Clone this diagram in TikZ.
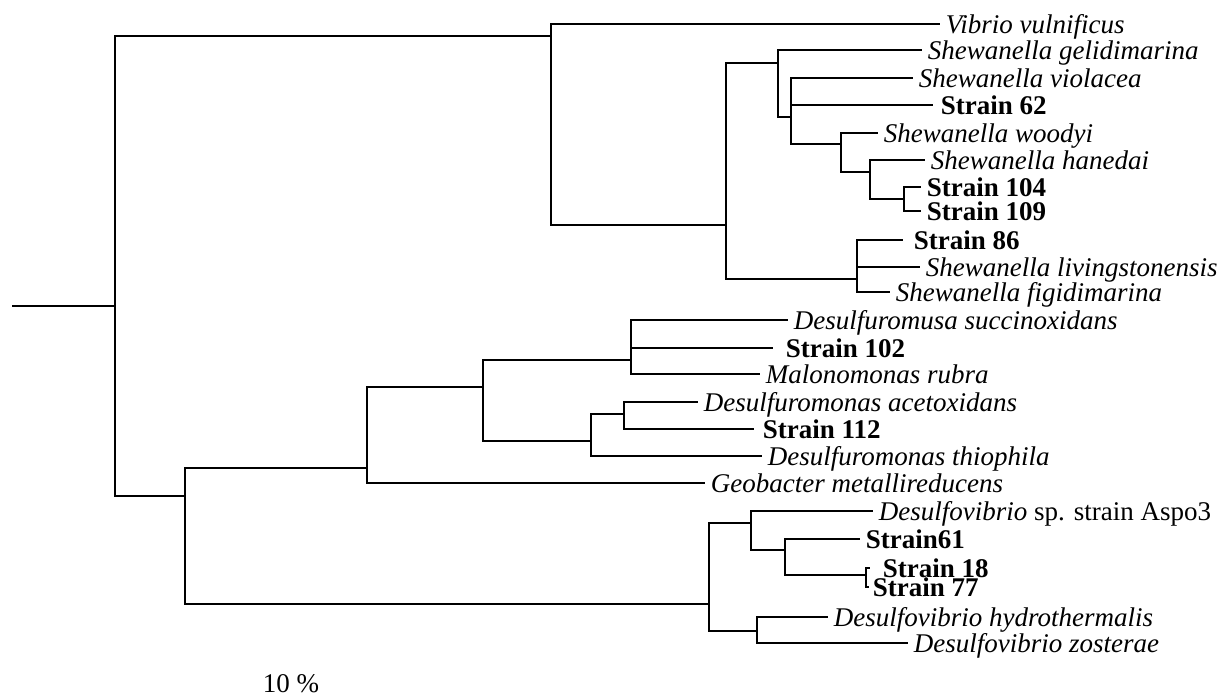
\documentclass[tikz,border=0pt]{standalone}
\usepackage{fontspec}
\setmainfont{Liberation Serif}
\begin{document}
\begin{tikzpicture}[x=1pt,y=-1pt,line width=1.8pt,
  leafbase/.style={anchor=west,inner xsep=5pt,inner ysep=0pt,text height=19pt,text depth=0pt},
  leaf/.style={leafbase,font=\fontsize{27}{30}\selectfont\itshape},
  strain/.style={leafbase,font=\fontsize{27}{30}\selectfont\bfseries},
  plain/.style={leafbase,font=\fontsize{27}{30}\selectfont}]
\useasboundingbox (0,0) rectangle (1222,697);
% internal nodes
\coordinate (r0) at (12,306);
\coordinate (R) at (115,306);
\coordinate (A) at (551,36);
\coordinate (B) at (726,225);
\coordinate (C) at (778,63);
\coordinate (D) at (791,117);
\coordinate (E) at (841,144);
\coordinate (F) at (870,172);
\coordinate (G) at (904,199);
\coordinate (H) at (857,279);
\coordinate (I) at (185,496);
\coordinate (J) at (367,468);
\coordinate (K) at (483,387);
\coordinate (L) at (631,360);
\coordinate (M) at (591,441);
\coordinate (N) at (624,414);
\coordinate (O) at (709,604);
\coordinate (P) at (751,523);
\coordinate (Q) at (785,550);
\coordinate (Rr) at (866,575);
\coordinate (S) at (757,631);
% leaves
\node[leaf] (vib) at (940,24) {Vibrio vulnificus};
\node[leaf] (gel) at (922,50) {Shewanella gelidimarina};
\node[leaf] (vio) at (913,78) {Shewanella violacea};
\node[strain,inner xsep=7pt] (s62) at (933,105) {Strain 62};
\node[leaf] (woo) at (878,133) {Shewanella woodyi};
\node[leaf] (han) at (925,160) {Shewanella hanedai};
\node[strain] (s104) at (921,187) {Strain 104};
\node[strain] (s109) at (921,211) {Strain 109};
\node[strain,inner xsep=10pt] (s86) at (903,240) {Strain 86};
\node[leaf] (liv) at (920,267) {Shewanella livingstonensis};
\node[leaf] (fig) at (890,292) {Shewanella figidimarina};
\node[leaf] (dsu) at (788,320) {Desulfuromusa succinoxidans};
\node[strain,inner xsep=12pt] (s102) at (773,348) {Strain 102};
\node[leaf] (mal) at (760,374) {Malonomonas rubra};
\node[leaf] (ace) at (698,402) {Desulfuromonas acetoxidans};
\node[strain,inner xsep=8pt] (s112) at (754,429) {Strain 112};
\node[leaf] (thi) at (762,456) {Desulfuromonas thiophila};
\node[leaf] (geo) at (705,483) {Geobacter metallireducens};
\node[plain] (asp) at (873,511) {\textit{Desulfovibrio} sp. strain Aspo3};
\node[strain] (s61) at (860,539) {Strain61};
\node[strain,inner xsep=12pt] (s18) at (870,568) {Strain 18};
\node[strain,inner xsep=3pt] (s77) at (869,587) {Strain 77};
\node[leaf] (hyd) at (828,617) {Desulfovibrio hydrothermalis};
\node[leaf] (zos) at (908,643) {Desulfovibrio zosterae};
\node[font=\fontsize{27}{30}\selectfont] (scale) at (291,684) {10 \%};
% branches
\draw (r0) -- (R);
\draw (R) |- (A);
\draw (R) |- (I);
\draw (A) |- (vib.west);
\draw (A) |- (B);
\draw (B) |- (C);
\draw (B) |- (H);
\draw (C) |- (gel.west);
\draw (C) |- (D);
\draw (D) |- (vio.west);
\draw (D) |- (s62.west);
\draw (D) |- (E);
\draw (E) |- (woo.west);
\draw (E) |- (F);
\draw (F) |- (han.west);
\draw (F) |- (G);
\draw (G) |- (s104.west);
\draw (G) |- (s109.west);
\draw (H) |- (s86.west);
\draw (H) |- (liv.west);
\draw (H) |- (fig.west);
\draw (I) |- (J);
\draw (I) |- (O);
\draw (J) |- (K);
\draw (J) |- (geo.west);
\draw (K) |- (L);
\draw (K) |- (M);
\draw (L) |- (dsu.west);
\draw (L) |- (s102.west);
\draw (L) |- (mal.west);
\draw (M) |- (N);
\draw (M) |- (thi.west);
\draw (N) |- (ace.west);
\draw (N) |- (s112.west);
\draw (O) |- (P);
\draw (O) |- (S);
\draw (P) |- (asp.west);
\draw (P) |- (Q);
\draw (Q) |- (s61.west);
\draw (Q) |- (Rr);
\draw (Rr) |- (s18.west);
\draw (Rr) |- (s77.west);
\draw (S) |- (hyd.west);
\draw (S) |- (zos.west);
\end{tikzpicture}
\end{document}
